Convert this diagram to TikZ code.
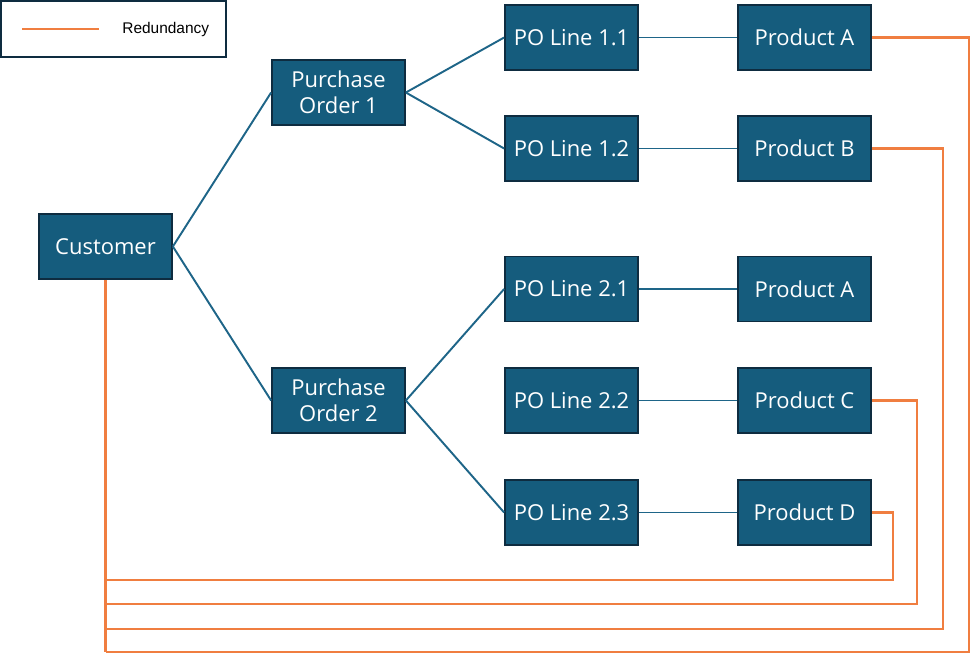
\documentclass[tikz,border=0pt]{standalone}
\usepackage{fontspec}
\setmainfont{Open Sans}
\newfontfamily\legendfont{Liberation Sans}
\definecolor{boxfill}{HTML}{155C7D}
\definecolor{boxedge}{HTML}{0E2C40}
\definecolor{linkblue}{HTML}{1E6588}
\definecolor{redund}{HTML}{F07E40}
\begin{document}
\begin{tikzpicture}[x=0.02cm,y=-0.02cm,
  entity/.style={draw=boxedge,line width=1pt,fill=boxfill,text=white,minimum width=2.66cm,minimum height=1.3cm,inner sep=0pt,align=center,font=\fontsize{12.5}{15}\selectfont},
  link/.style={draw=linkblue,line width=1.1pt},
  redline/.style={draw=redund,line width=1.2pt}]
\useasboundingbox (0,0) rectangle (971,654);
% legend
\node[draw=boxedge,line width=1.2pt,minimum width=4.5cm,minimum height=1.12cm,inner sep=0pt] (legend) at (113.5,29) {};
\coordinate (l1) at (22,29);
\coordinate (l2) at (99,29);
\draw[redline] (l1) -- (l2);
\node[anchor=west,inner sep=0pt,font=\legendfont\fontsize{8.8}{10}\selectfont] (legtext) at (122,29) {Redundancy};
% nodes
\node[entity] (cust) at (105.5,246.5) {Customer};
\node[entity] (po1) at (338.5,92.5) {Purchase\\Order 1};
\node[entity] (po2) at (338.5,400.5) {Purchase\\Order 2};
\node[entity] (l11) at (571.5,37.5) {PO Line 1.1};
\node[entity] (l12) at (571.5,148.5) {PO Line 1.2};
\node[entity] (l21) at (571.5,289) {PO Line 2.1};
\node[entity] (l22) at (571.5,400.5) {PO Line 2.2};
\node[entity] (l23) at (571.5,512.5) {PO Line 2.3};
\node[entity] (pa1) at (804.5,37.5) {Product A};
\node[entity] (pb) at (804.5,148.5) {Product B};
\node[entity] (pa2) at (804.5,289) {Product A};
\node[entity] (pc) at (804.5,400.5) {Product C};
\node[entity] (pd) at (804.5,512.5) {Product D};
% blue links
\draw[link] (cust.east) -- (po1.west);
\draw[link] (cust.east) -- (po2.west);
\draw[link] (po1.east) -- (l11.west);
\draw[link] (po1.east) -- (l12.west);
\draw[link] (po2.east) -- (l21.west);
\draw[link] (po2.east) -- (l23.west);
\draw[link] (l11) -- (pa1);
\draw[link] (l12) -- (pb);
\draw[link] (l21) -- (pa2);
\draw[link] (l22) -- (pc);
\draw[link] (l23) -- (pd);
% redundancy lines
\coordinate (t1) at (105.5,580);
\coordinate (t2) at (105.5,604);
\coordinate (t3) at (105.5,629);
\coordinate (t4) at (105.5,652);
\draw[redline] (cust.south) -- (t4);
\draw[redline] (t1) -| (893,512.5) -- (pd.east);
\draw[redline] (t2) -| (917,400.5) -- (pc.east);
\draw[redline] (t3) -| (943,148.5) -- (pb.east);
\draw[redline] (t4) -| (969,37.5) -- (pa1.east);
\end{tikzpicture}
\end{document}
